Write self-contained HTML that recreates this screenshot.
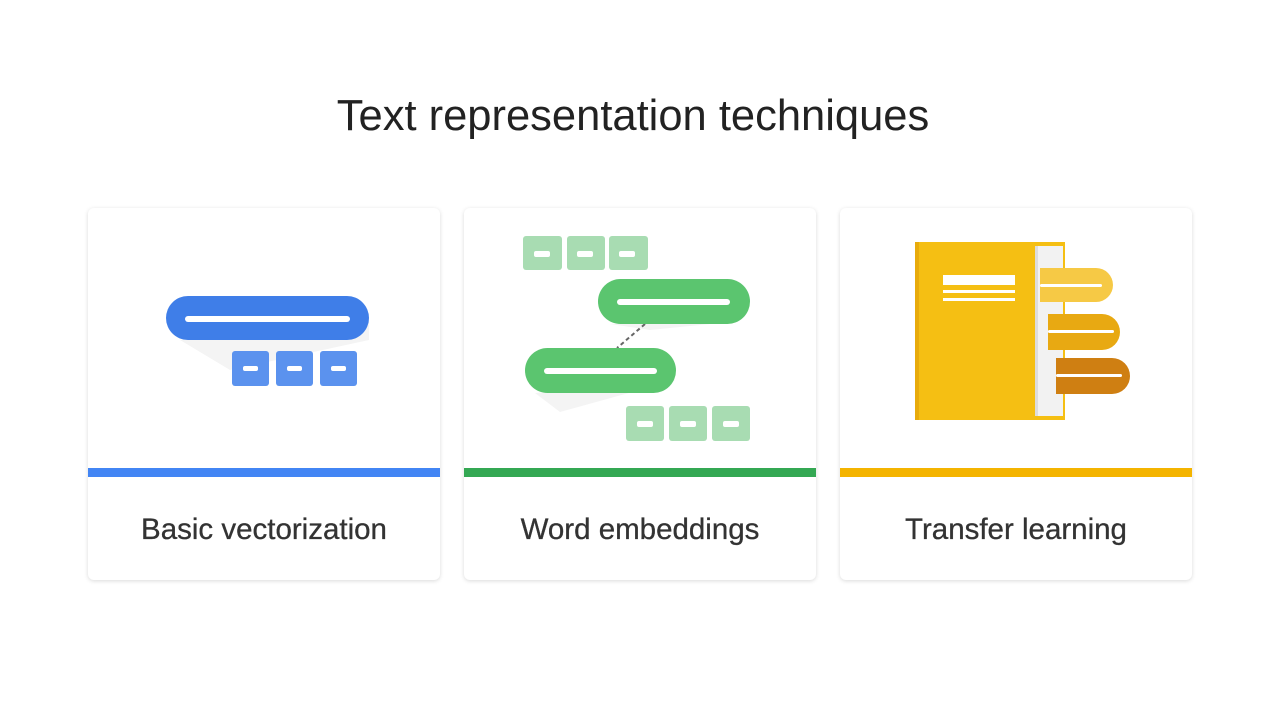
<!DOCTYPE html>
<html><head><style>
body{margin:0;width:1280px;height:720px;background:#fff;font-family:"Liberation Sans",sans-serif;position:relative;overflow:hidden}
.t{position:absolute;top:92px;left:0;width:1266px;text-align:center;font-size:43.5px;color:#222}
.card{position:absolute;top:208px;width:352px;height:372px;background:#fff;border-radius:6px;box-shadow:0 1px 4px rgba(0,0,0,.15)}
.bar{position:absolute;left:0;top:260px;width:100%;height:9px}
.lab{position:absolute;left:0;top:305px;width:100%;text-align:center;font-size:29.5px;color:#333;-webkit-text-stroke:0.3px #333}
.a{position:absolute}
</style></head><body>
<div class="t">Text representation techniques</div>
<div class="card" style="left:88px"><div class="bar" style="background:#4285f4"></div><div class="lab">Basic vectorization</div></div>
<div class="card" style="left:464px"><div class="bar" style="background:#34a853"></div><div class="lab">Word embeddings</div></div>
<div class="card" style="left:840px"><div class="bar" style="background:#f4b400"></div><div class="lab">Transfer learning</div></div>
<svg class="a" style="left:0;top:0" width="1280" height="720">
<!-- blue -->
<polygon points="180,340 369,318 369,340 230,370" fill="#f4f4f4"/>
<rect x="166" y="296" width="203" height="44" rx="22" fill="#3f7ee8"/>
<rect x="185" y="316" width="165" height="6" rx="3" fill="#fff"/>
<g fill="#5b92ee"><rect x="232" y="351" width="37" height="35" rx="3"/><rect x="276" y="351" width="37" height="35" rx="3"/><rect x="320" y="351" width="37" height="35" rx="3"/></g>
<g fill="#fff"><rect x="243" y="366" width="15" height="5" rx="2"/><rect x="287" y="366" width="15" height="5" rx="2"/><rect x="331" y="366" width="15" height="5" rx="2"/></g>
<!-- green -->
<g fill="#a8dcb2"><rect x="523" y="236" width="39" height="34" rx="3"/><rect x="567" y="236" width="38" height="34" rx="3"/><rect x="609" y="236" width="39" height="34" rx="3"/>
<rect x="626" y="406" width="38" height="35" rx="3"/><rect x="669" y="406" width="38" height="35" rx="3"/><rect x="712" y="406" width="38" height="35" rx="3"/></g>
<g fill="#fff"><rect x="534" y="251" width="16" height="6" rx="2"/><rect x="577" y="251" width="16" height="6" rx="2"/><rect x="619" y="251" width="16" height="6" rx="2"/>
<rect x="637" y="421" width="16" height="6" rx="2"/><rect x="680" y="421" width="16" height="6" rx="2"/><rect x="723" y="421" width="16" height="6" rx="2"/></g>
<polygon points="610,324 710,324 650,330" fill="#f4f4f4"/>
<polygon points="535,393 676,380 560,412" fill="#f4f4f4"/>
<line x1="645" y1="324" x2="617" y2="348" stroke="#666" stroke-width="2" stroke-dasharray="4,3"/>
<rect x="598" y="279" width="152" height="45" rx="22.5" fill="#5bc56f"/>
<rect x="617" y="299" width="113" height="6" rx="3" fill="#fff"/>
<rect x="525" y="348" width="151" height="45" rx="22.5" fill="#5bc56f"/>
<rect x="544" y="368" width="113" height="6" rx="3" fill="#fff"/>
<!-- book -->
<rect x="915" y="242" width="150" height="178" fill="#f5bf13"/>
<rect x="915" y="242" width="4" height="178" fill="#e8ab0c"/>
<rect x="1035" y="246" width="28" height="170" fill="#f2f2f2"/>
<rect x="1035" y="246" width="3" height="170" fill="#ddd"/>
<rect x="943" y="275" width="72" height="10" fill="#fff"/>
<rect x="943" y="290" width="72" height="3" fill="#fff"/>
<rect x="943" y="298" width="72" height="3" fill="#fff"/>
<path d="M1040 268 H1096 A17 17 0 0 1 1096 302 H1040 Z" fill="#f6c945"/>
<rect x="1040" y="284" width="62" height="3" rx="1.5" fill="#fff"/>
<path d="M1048 314 H1102 A18 18 0 0 1 1102 350 H1048 Z" fill="#e8a912"/>
<rect x="1048" y="330" width="66" height="3" rx="1.5" fill="#fff"/>
<path d="M1056 358 H1112 A18 18 0 0 1 1112 394 H1056 Z" fill="#cf7f12"/>
<rect x="1056" y="374" width="66" height="3" rx="1.5" fill="#fff"/>
</svg>
</body></html>
